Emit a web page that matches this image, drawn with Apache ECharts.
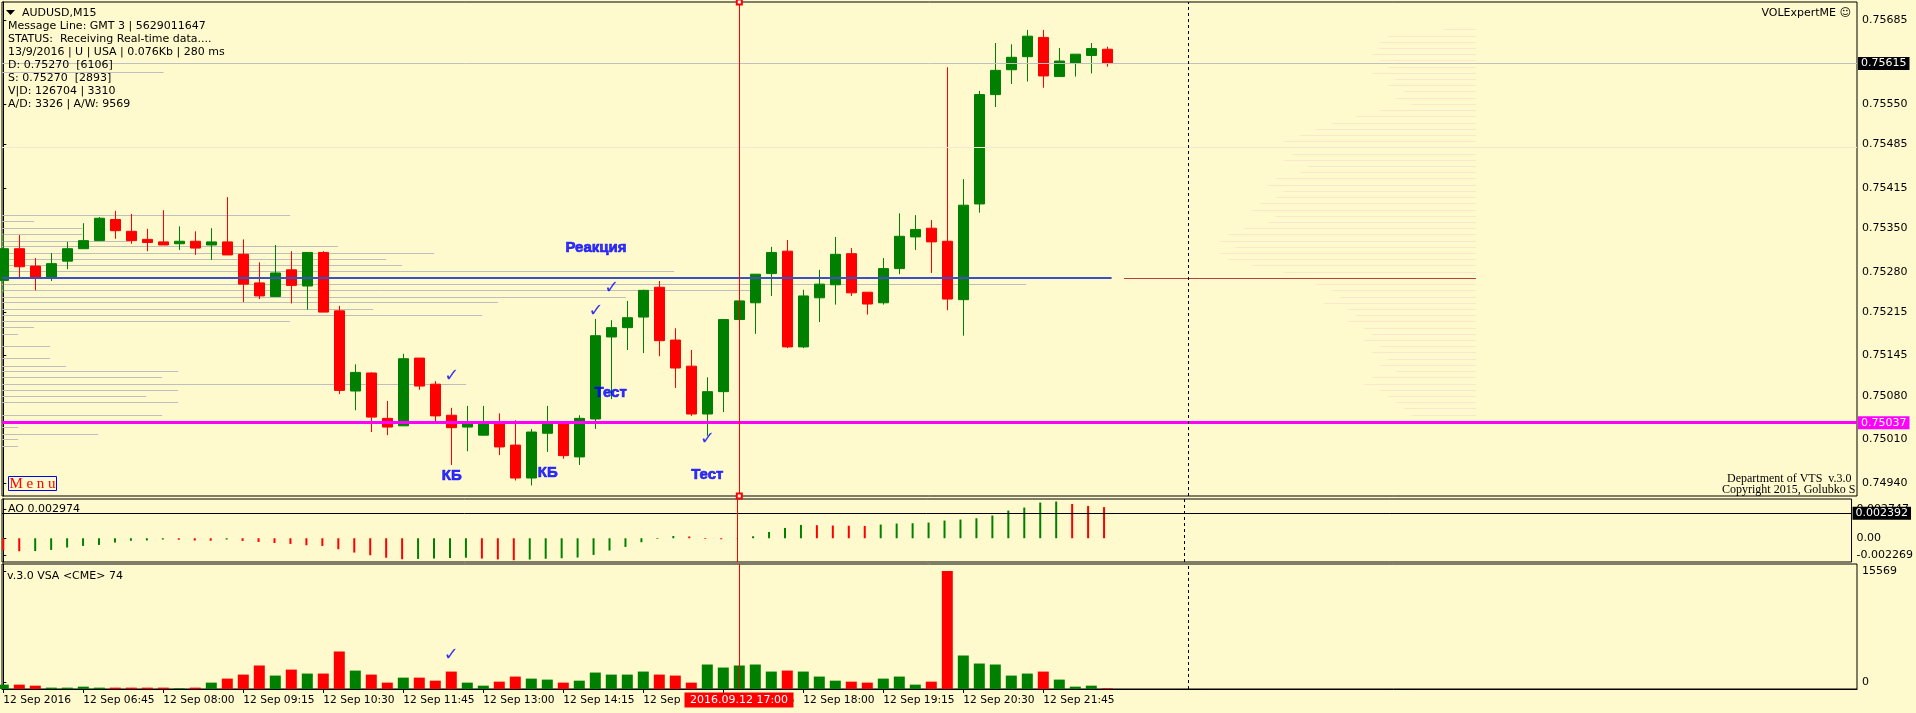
<!DOCTYPE html>
<html>
<head>
<meta charset="utf-8">
<title>AUDUSD,M15</title>
<script src="https://cdn.jsdelivr.net/npm/echarts@6/dist/echarts.min.js"></script>
<style>
html,body{margin:0;padding:0;background:#FFFACD;}
#chart{width:1916px;height:713px;}
</style>
</head>
<body>
<div id="chart"></div>
<script>
// ---------- data ----------
const opens  = [0.75266,0.75317,0.75289,0.75269,0.75297,0.75317,0.75330,0.75364,0.75345,0.75332,
                0.75328,0.75325,0.75329,0.75323,0.75328,0.75308,0.75262,0.75240,0.75283,0.75257,
                0.75311,0.75217,0.75088,0.75117,0.75044,0.75032,0.75141,0.75099,0.75049,0.75030,
                0.75017,0.75036,0.75001,0.74948,0.75020,0.75037,0.74982,0.75043,0.75175,0.75190,
                0.75207,0.75255,0.75170,0.75128,0.75051,0.75087,0.75203,0.75230,0.75277,0.75313,
                0.75159,0.75238,0.75259,0.75309,0.75247,0.75230,0.75285,0.75336,0.75350,0.75329,
                0.75235,0.75389,0.75565,0.75605,0.75626,0.75657,0.75594,0.75615,0.75628,0.75638];
const closes = [0.75317,0.75288,0.75269,0.75293,0.75317,0.75330,0.75366,0.75346,0.75330,0.75327,
                0.75323,0.75329,0.75318,0.75328,0.75307,0.75260,0.75241,0.75278,0.75258,0.75311,
                0.75215,0.75089,0.75118,0.75046,0.75030,0.75140,0.75096,0.75048,0.75029,0.75038,
                0.75037,0.74998,0.74948,0.75022,0.75037,0.74984,0.75044,0.75177,0.75190,0.75206,
                0.75250,0.75169,0.75125,0.75051,0.75087,0.75203,0.75233,0.75276,0.75311,0.75159,
                0.75241,0.75260,0.75308,0.75246,0.75228,0.75285,0.75337,0.75348,0.75328,0.75236,
                0.75387,0.75565,0.75604,0.75625,0.75659,0.75595,0.75619,0.75630,0.75639,0.75615];
const lows   = [0.75246,0.75271,0.75250,0.75265,0.75284,0.75317,0.75330,0.75333,0.75325,0.75313,
                0.75323,0.75315,0.75307,0.75299,0.75307,0.75231,0.75236,0.75240,0.75229,0.75219,
                0.75215,0.75083,0.75057,0.75022,0.75017,0.75032,0.75090,0.75038,0.74969,0.74991,
                0.75016,0.74985,0.74944,0.74936,0.74990,0.74979,0.74969,0.75027,0.75075,0.75154,
                0.75149,0.75144,0.75093,0.75048,0.75016,0.75054,0.75203,0.75180,0.75241,0.75157,
                0.75157,0.75199,0.75227,0.75241,0.75211,0.75227,0.75276,0.75315,0.75278,0.75218,
                0.75177,0.75375,0.75545,0.75582,0.75586,0.75576,0.75594,0.75594,0.75599,0.75610];
const highs  = [0.75342,0.75339,0.75302,0.75310,0.75328,0.75358,0.75368,0.75378,0.75373,0.75349,
                0.75379,0.75353,0.75345,0.75350,0.75400,0.75332,0.75295,0.75323,0.75313,0.75311,
                0.75313,0.75225,0.75131,0.75118,0.75072,0.75148,0.75141,0.75104,0.75061,0.75064,
                0.75064,0.75052,0.75041,0.75027,0.75064,0.75037,0.75049,0.75204,0.75202,0.75233,
                0.75251,0.75265,0.75189,0.75154,0.75110,0.75203,0.75233,0.75276,0.75320,0.75331,
                0.75251,0.75283,0.75336,0.75318,0.75247,0.75302,0.75374,0.75371,0.75363,0.75609,
                0.75429,0.75571,0.75648,0.75646,0.75669,0.75669,0.75640,0.75630,0.75648,0.75642];
const volumes = [575,575,440,180,180,310,180,180,180,180,
                 180,90,180,840,1370,1900,3100,1770,2560,2035,
                 2035,4950,2430,1900,840,1500,1500,1100,2300,840,
                 440,970,1640,1370,1240,840,1100,2170,1900,1900,
                 2300,1900,1770,840,3230,2830,3100,3230,2300,2430,
                 2300,1640,1100,970,840,1370,1640,575,970,15569,
                 4420,3360,3230,1770,2035,2300,1240,310,440,90];
const aoValues = [-0.001146,-0.001242,-0.001222,-0.001117,-0.000888,-0.000735,-0.000640,-0.000411,-0.000239,-0.000210,
                  -0.000124,-0.000143,-0.000220,-0.000239,-0.000124,-0.000258,-0.000353,-0.000449,-0.000544,-0.000669,
                  -0.000735,-0.001051,-0.001366,-0.001624,-0.001862,-0.002006,-0.001977,-0.001939,-0.001891,-0.001862,
                  -0.001939,-0.002025,-0.002101,-0.002034,-0.001958,-0.001910,-0.001843,-0.001595,-0.001175,-0.000831,
                  -0.000382,-0.000067,0.000210,0.000172,-0.000067,-0.000096,-0.000029,0.000191,0.000602,0.000984,
                  0.001270,0.001242,0.001213,0.001194,0.001175,0.001308,0.001404,0.001433,0.001499,0.001690,
                  0.001786,0.001910,0.002168,0.002645,0.002932,0.003409,0.003505,0.003276,0.003085,0.002974];
const timeTickBars = [0,5,10,15,20,25,30,35,40,45,50,55,60,65];
const timeLabels = ['12 Sep 2016','12 Sep 06:45','12 Sep 08:00','12 Sep 09:15','12 Sep 10:30','12 Sep 11:45',
                    '12 Sep 13:00','12 Sep 14:15','12 Sep 15:30','12 Sep 16:45','12 Sep 18:00','12 Sep 19:15',
                    '12 Sep 20:30','12 Sep 21:45'];
const priceTicks = [0.75685,0.75550,0.75485,0.75415,0.75350,0.75280,0.75215,0.75145,0.75080,0.75010,0.74940];
const aoTicks = [0.002747, 0, -0.00165];
const aoTickLabels = ['0.002747','0.00','-0.002269'];
const volTicks = [15569, 880];
const volTickLabels = ['15569','0'];
const bidPrice = 0.75615;
const levelPrice = 0.75037;
const dsPrice = 0.75270;
const faintPrice = 0.75481;
const aoLevel = 0.002392;
const markerBar = 46;
const markerLabel = '2016.09.12 17:00';
const shiftBar = 74.05;
const lastBarEnd = 69.27;
const profilePrices = [0.75601,0.75371,0.75361,0.75350,0.75340,0.75330,0.75321,0.75310,0.75300,0.75290,
                       0.75281,0.75260,0.75250,0.75240,0.75231,0.75220,0.75210,0.75200,0.75191,0.75179,
                       0.75160,0.75141,0.75129,0.75120,0.75110,0.75100,0.75089,0.75080,0.75070,0.75049,
                       0.75030,0.75019,0.75010,0.74999];
const profileLens   = [10.1,18.0,2.0,5.0,5.0,8.0,21.0,27.0,24.0,25.0,
                       42.0,64.0,47.3,39.0,31.0,23.2,30.0,18.0,2.0,1.0,
                       3.0,3.0,4.0,11.0,10.0,29.0,11.0,9.0,11.0,10.0,
                       1.0,6.0,1.0,1.0];
const rightProfileEnd = 92.04;
const rightProfilePrices = [0.7567,0.7566,0.7565,0.7564,0.7563,0.7562,0.7561,0.7560,0.7559,0.7558,
                            0.7557,0.7556,0.7555,0.7554,0.7553,0.7552,0.7551,0.7550,0.7549,0.7548,
                            0.7547,0.7546,0.7545,0.7544,0.7543,0.7542,0.7541,0.7540,0.7539,0.7538,
                            0.7537,0.7536,0.7535,0.7534,0.7533,0.7532,0.7531,0.7530,0.7529,0.7528,
                            0.7526,0.7525,0.7524,0.7523,0.7522,0.7521,0.7520,0.7519,0.7518,0.7517,
                            0.7516,0.7515,0.7514,0.7513,0.7512,0.7511,0.7510,0.7509,0.7508,0.7507,
                            0.7506,0.7505,0.7504];
const rightProfileLens = [2.0,5.5,6.0,6.0,6.5,6.0,5.5,6.5,5.0,5.5,
                          4.5,5.0,4.0,6.0,7.5,9.0,10.0,11.0,12.0,12.5,
                          11.5,12.0,10.5,11.0,12.5,13.0,12.0,12.5,13.5,14.0,
                          12.5,13.0,14.5,15.5,16.0,15.0,16.0,15.5,14.0,12.0,
                          10.0,9.0,8.5,9.5,8.0,7.5,8.0,7.0,6.5,7.0,
                          6.0,6.5,5.5,6.0,5.0,6.5,7.0,6.0,5.5,5.0,
                          4.5,4.0,3.5];
const annoTexts  = ['Реакция','Тест','Тест','КБ','КБ'];
const annoBars   = [37.04,37.96,44.0,28.03,34.03];
const annoPrices = [0.75319,0.75085,0.74953,0.74951,0.74957];
const checkBars   = [28.03,37.04,38.03,44.02];
const checkPrices = [0.75112,0.75216,0.75253,0.75010];
const volCheckBar = 28.0, volCheckValue = 4500;
const infoLines = ['Message Line: GMT 3 | 5629011647','STATUS:  Receiving Real-time data....',
                   '13/9/2016 | U | USA | 0.076Kb | 280 ms','D: 0.75270  [6106]','S: 0.75270  [2893]',
                   'V|D: 126704 | 3310','A/D: 3326 | A/W: 9569'];
const symbolTitle = 'AUDUSD,M15';

// ---------- chart ----------
const GREEN = '#008000', RED = '#FF0000', BG = '#FFFACD', BLUE = '#0000FF';
const FONT = 'DejaVu Sans';
const XMIN = -0.081, XMAX = 115.856;
const chart = echarts.init(document.getElementById('chart'), null, {width:1916, height:713});

const candleData = opens.map((o,i)=>[i,o,closes[i],lows[i],highs[i]]);
const isUp = opens.map((o,i)=>closes[i] >= o);
const HIDDEN = 'rgba(0,0,0,0)';

function xAxisCfg(gi, show){
  const a = {type:'value', gridIndex:gi, min:XMIN, max:XMAX, splitLine:{show:false},
    axisLine:{show:false}, axisTick:{show:false}, axisLabel:{show:false}};
  if (show){
    a.axisLine = {show:true, lineStyle:{color:'#000', width:1}};
    a.axisTick = {show:true, customValues:timeTickBars, length:4, lineStyle:{color:'#000'}};
    a.axisLabel = {show:true, customValues:timeTickBars, align:'left', margin:6, color:'#000',
      fontSize:10.7, fontFamily:FONT,
      formatter:v=>timeLabels[timeTickBars.indexOf(Math.round(v))] || ''};
  }
  return a;
}
function yAxisCfg(gi, min, max, ticks, fmt){
  return {type:'value', gridIndex:gi, position:'right', min:min, max:max, splitLine:{show:false},
    axisLine:{show:true, lineStyle:{color:'#000'}},
    axisTick:{show:true, customValues:ticks, length:3, lineStyle:{color:'#000'}},
    axisLabel:{show:true, customValues:ticks, formatter:fmt, color:'#000', fontSize:11, fontFamily:FONT, margin:5}};
}
const vRed = {xAxis:markerBar, lineStyle:{color:RED, width:1, type:'solid'}};
const vDash = {xAxis:shiftBar, lineStyle:{color:'#000', width:1, type:[3,3]}};
function boxLabel(text, bg){
  return {show:true, position:'end', distance:1, formatter:text, color:'#fff', backgroundColor:bg,
    padding:[1,3,0,3], fontSize:11, lineHeight:12, fontFamily:FONT};
}

function profileItem(color){
  return function(params, api){
    const x0 = api.value(0), p = api.value(1), len = api.value(2);
    const a = api.coord([x0, p]), b = api.coord([x0+len, p]);
    const y = Math.round(a[1]) + 0.5;
    return {type:'line', shape:{x1:a[0], y1:y, x2:b[0], y2:y}, style:{stroke:color, lineWidth:1}};
  };
}

const annoData = annoTexts.map((t,i)=>({value:[annoBars[i], annoPrices[i]],
  label:{show:true, position:'inside', formatter:t, fontSize:15, fontWeight:'bold', color:BLUE,
         textBorderColor:BLUE, textBorderWidth:0.7, fontFamily:'Liberation Sans'}}))
  .concat(checkBars.map((b,i)=>({value:[b, checkPrices[i]],
  label:{show:true, position:'inside', formatter:'\u2713', fontSize:18, color:BLUE, fontFamily:FONT}})));

const graphics = [];
graphics.push({type:'polygon', z:100, shape:{points:[[6,10],[15,10],[10.5,15]]}, style:{fill:'#000'}});
graphics.push({type:'text', z:100, x:22, y:12.7, style:{text:symbolTitle, font:'11px "DejaVu Sans"', fill:'#000', verticalAlign:'middle'}});
infoLines.forEach((t,i)=>graphics.push({type:'text', z:100, x:8, y:25.7+13*i,
  style:{text:t, font:'11px "DejaVu Sans"', fill:'#000', verticalAlign:'middle'}}));
graphics.push({type:'text', z:100, x:1851, y:13.5, style:{text:'VOLExpertME \u263A', font:'11px "DejaVu Sans"', fill:'#000', align:'right', verticalAlign:'middle'}});
graphics.push({type:'text', z:100, x:8, y:509, style:{text:'AO ' + aoValues[aoValues.length-1].toFixed(6), font:'11px "DejaVu Sans"', fill:'#000', verticalAlign:'middle'}});
graphics.push({type:'text', z:100, x:7, y:576, style:{text:'v.3.0 VSA <CME> 74', font:'11px "DejaVu Sans"', fill:'#000', verticalAlign:'middle'}});
graphics.push({type:'text', z:100, x:1727, y:479, style:{text:'Department of VTS  v.3.0', font:'12px "Liberation Serif"', fill:'#000', verticalAlign:'middle'}});
graphics.push({type:'text', z:100, x:1722, y:490, style:{text:'Copyright 2015, Golubko S', font:'12px "Liberation Serif"', fill:'#000', verticalAlign:'middle'}});
graphics.push({type:'rect', z:100, shape:{x:8.5, y:476.5, width:48, height:14}, style:{fill:BG, stroke:BLUE, lineWidth:1}});
graphics.push({type:'text', z:101, x:32.5, y:484, style:{text:'M e n u', font:'15px "Liberation Serif"', fill:'#FF0000', align:'center', verticalAlign:'middle'}});

const option = {
  animation:false,
  backgroundColor:BG,
  grid:[
    {left:2, top:2, width:1855, height:494, show:true, borderColor:'#000', borderWidth:1, backgroundColor:'transparent'},
    {left:2, top:499, width:1855, height:63, show:true, borderColor:'#000', borderWidth:1, backgroundColor:'transparent'},
    {left:2, top:564, width:1855, height:125, show:true, borderColor:'#000', borderWidth:1, backgroundColor:'transparent'}
  ],
  xAxis:[xAxisCfg(0,false), xAxisCfg(1,false), xAxisCfg(2,true)],
  yAxis:[
    yAxisCfg(0, 0.7491907, 0.7571400, priceTicks, v=>v.toFixed(5)),
    yAxisCfg(1, -0.002269, 0.003748, aoTicks, v=>aoTickLabels[aoTicks.indexOf(v)]),
    yAxisCfg(2, 0, 16490, volTicks, v=>volTickLabels[volTicks.indexOf(v)])
  ],
  series:[
    {type:'custom', name:'profileLeft', xAxisIndex:0, yAxisIndex:0, z:1, silent:true,
      data:profilePrices.map((p,i)=>[XMIN, p, profileLens[i]]), renderItem:profileItem('#BEBEBE')},
    {type:'custom', name:'profileRight', xAxisIndex:0, yAxisIndex:0, z:1, silent:true,
      data:rightProfilePrices.map((p,i)=>[rightProfileEnd-rightProfileLens[i], p, rightProfileLens[i]]), renderItem:profileItem('#FCE6CC')},
    {type:'candlestick', name:'AUDUSD', xAxisIndex:0, yAxisIndex:0, z:2, silent:true,
      data:candleData, encode:{x:0, y:[1,2,3,4]}, barWidth:10,
      itemStyle:{color:GREEN, color0:RED, borderColor:GREEN, borderColor0:RED, borderWidth:1},
      markLine:{silent:true, precision:6, symbol:['none','none'], animation:false, label:{show:false},
        data:[
          {yAxis:faintPrice, lineStyle:{color:'#F7E6D2', width:1, type:'solid'}},
          {yAxis:bidPrice, lineStyle:{color:'#C0C0C0', width:1, type:'solid'}, label:boxLabel(bidPrice.toFixed(5), '#000')},
          [{coord:[XMIN, dsPrice], lineStyle:{color:'#3A50C4', width:2, type:'solid'}}, {coord:[lastBarEnd, dsPrice]}],
          [{coord:[70.04, dsPrice], lineStyle:{color:'#B84040', width:1, type:'solid'}}, {coord:[rightProfileEnd, dsPrice]}],
          {yAxis:levelPrice, lineStyle:{color:'#FF00FF', width:3, type:'solid'}, label:boxLabel(levelPrice.toFixed(5), '#FF00FF')},
          vDash
        ]}
    },
    {type:'scatter', name:'annotations', xAxisIndex:0, yAxisIndex:0, z:6, silent:true,
      symbolSize:1, itemStyle:{color:HIDDEN}, data:annoData,
      markLine:{silent:true, precision:6, symbol:['emptyRect','emptyRect'], symbolSize:5, animation:false, label:{show:false},
        itemStyle:{color:RED}, data:[vRed]}
    },
    {type:'bar', name:'AO', xAxisIndex:1, yAxisIndex:1, barWidth:2, silent:true,
      data:aoValues.map((v,i)=>[i,v]),
      itemStyle:{color:p=>{const i=p.dataIndex; return (i>0 && aoValues[i]>=aoValues[i-1]) ? GREEN : RED;}},
      markLine:{silent:true, precision:6, symbol:['none','none'], animation:false, label:{show:false},
        data:[
          {yAxis:aoLevel, lineStyle:{color:'#000', width:1, type:'solid'}, label:boxLabel(aoLevel.toFixed(6), '#000')},
          vRed, vDash
        ]}
    },
    {type:'bar', name:'VSA', xAxisIndex:2, yAxisIndex:2, barWidth:11, silent:true,
      data:volumes.map((v,i)=>[i,v]),
      itemStyle:{color:p=>isUp[p.dataIndex] ? GREEN : RED},
      markLine:{silent:true, precision:6, symbol:['none','none'], animation:false, label:{show:false}, data:[vRed, vDash]}
    },
    {type:'scatter', name:'vsaCheck', xAxisIndex:2, yAxisIndex:2, z:6, silent:true, symbolSize:1, itemStyle:{color:HIDDEN},
      data:[{value:[volCheckBar, volCheckValue], label:{show:true, position:'inside', formatter:'\u2713', fontSize:18, color:BLUE, fontFamily:FONT}}]}
  ],
  graphic:graphics
};
chart.setOption(option);
const mx = chart.convertToPixel({xAxisIndex:2}, markerBar);
option.graphic = graphics.concat([
  {type:'rect', z:120, zlevel:0, shape:{x:Math.round(mx)-54.5, y:692.5, width:109, height:15}, style:{fill:RED}},
  {type:'text', z:121, zlevel:0, x:Math.round(mx), y:700, style:{text:markerLabel, font:'11px "DejaVu Sans"', fill:'#fff', align:'center', verticalAlign:'middle'}}
]);
chart.setOption(option, true);
</script>
</body>
</html>
